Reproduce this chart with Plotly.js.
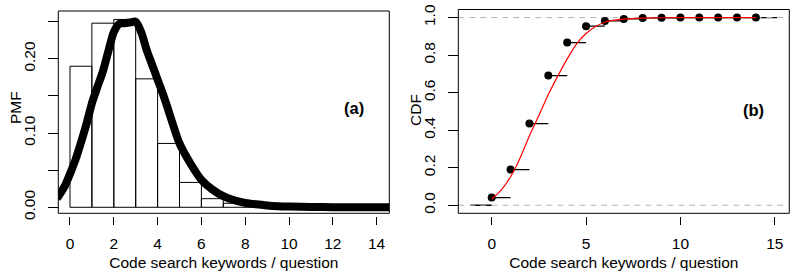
<!DOCTYPE html>
<html><head><meta charset="utf-8">
<script src="https://cdn.plot.ly/plotly-3.0.1.min.js"></script>
<style>html,body{margin:0;padding:0;background:#fff}#chart{width:800px;height:275px}</style>
</head><body><div id="chart"></div>
<script>
// ---- Panel (a): histogram of keywords per question (PMF) ----
const histEdges = [0,1,2,3,4,5,6,7,8,9,10,11,12,13,14];
const histPMF   = [0.190,0.248,0.253,0.173,0.086,0.0335,0.0116,0.0054,0.0024,0.0010,0.0005,0.0003,0.0002,0.0001];
// smoothed density curve
const densX = [-0.6,-0.25,0,0.25,0.5,0.75,1.0,1.25,1.5,1.75,2.0,2.25,2.5,2.75,3.0,3.25,3.5,3.75,4.0,4.25,4.5,4.75,5.0,5.5,6.0,6.5,7.0,7.5,8.0,8.5,9.0,9.5,10,11,12,13,14,14.7];
const densY = [0.012,0.028,0.045,0.064,0.087,0.112,0.140,0.162,0.183,0.210,0.236,0.247,0.248,0.249,0.250,0.236,0.212,0.192,0.172,0.152,0.130,0.107,0.086,0.059,0.037,0.024,0.015,0.0095,0.006,0.004,0.0025,0.0015,0.001,0.0005,0.0002,0.0001,0.00005,0.0];

// ---- Panel (b): empirical CDF and fitted CDF ----
const ecdfX = [0,1,2,3,4,5,6,7,8,9,10,11,12,13,14];
const ecdfY = [0.041,0.190,0.435,0.691,0.867,0.954,0.982,0.993,0.998,0.999,1.0,1.0,1.0,1.0,1.0];
const fitX = [0,0.5,1,1.5,2,2.5,3,3.5,4,4.5,5,5.5,6,6.5,7,8,9,10,12,14];
const fitY = [0.032,0.08,0.152,0.25,0.37,0.478,0.59,0.688,0.78,0.86,0.915,0.952,0.975,0.986,0.992,0.997,0.999,1.0,1.0,1.0];

const xTitle = 'Code search keywords / question';
const yTitleA = 'PMF', yTitleB = 'CDF';

const xRangeA = [-0.534,14.58], yRangeA = [-0.0081,0.2644];
const xRangeB = [-1.77,15.77], yRangeB = [-0.043,1.043];
const stepExt = 1.12;

const FONT = 'Liberation Sans, Arial, sans-serif';
const FS = 15.5;

// histogram bars
const barX = [], barW = [];
for (let i = 0; i < histPMF.length; i++) { barX.push((histEdges[i]+histEdges[i+1])/2); barW.push(histEdges[i+1]-histEdges[i]); }

// ECDF step segments
const segX = [], segY = [];
segX.push(ecdfX[0]-stepExt, ecdfX[0], null); segY.push(0,0,null);
for (let i = 0; i < ecdfX.length; i++) {
  const xe = (i < ecdfX.length-1) ? ecdfX[i+1] : ecdfX[i]+stepExt;
  segX.push(ecdfX[i], xe, null); segY.push(ecdfY[i], ecdfY[i], null);
}

const traces = [
  {type:'bar', x:barX, y:histPMF, width:barW, xaxis:'x', yaxis:'y',
   marker:{color:'rgba(255,255,255,0)', line:{color:'#000', width:1}}, hoverinfo:'skip', showlegend:false},
  {type:'scatter', mode:'lines', x:densX, y:densY, xaxis:'x', yaxis:'y',
   line:{color:'#000', width:8, shape:'spline', smoothing:0.8}, showlegend:false},
  {type:'scatter', mode:'lines', x:segX, y:segY, xaxis:'x2', yaxis:'y2',
   line:{color:'#000', width:1.3}, showlegend:false, connectgaps:false},
  {type:'scatter', mode:'lines', x:[xRangeB[0],xRangeB[1],null,xRangeB[0],xRangeB[1]], y:[0,0,null,1,1], xaxis:'x2', yaxis:'y2',
   line:{color:'#b3b3b3', width:1, dash:'6px,5px'}, showlegend:false},
  {type:'scatter', mode:'markers', x:ecdfX, y:ecdfY, xaxis:'x2', yaxis:'y2',
   marker:{color:'#000', size:8}, showlegend:false},
  {type:'scatter', mode:'lines', x:fitX, y:fitY, xaxis:'x2', yaxis:'y2',
   line:{color:'#ff0000', width:1.2, shape:'spline', smoothing:0.6}, showlegend:false}
];

const axCommon = {showgrid:false, zeroline:false, showline:false, ticks:'outside', tickcolor:'#000', tickwidth:1,
  tickfont:{family:FONT, size:FS, color:'#000'}, fixedrange:true};

const layout = {
  width:800, height:275, margin:{l:0,r:0,t:0,b:0}, paper_bgcolor:'#fff', plot_bgcolor:'#fff',
  showlegend:false, bargap:0, font:{family:FONT, size:FS, color:'#000'},
  xaxis: Object.assign({}, axCommon, {domain:[58.3/800,389.3/800], range:xRangeA, anchor:'free', position:(275-215.8)/275,
    tickvals:[0,2,4,6,8,10,12,14], ticklen:8.5, ticklabelstandoff:5,
    title:{text:xTitle, font:{family:FONT,size:FS,color:'#000'}, standoff:6}}),
  yaxis: Object.assign({}, axCommon, {domain:[(275-213.3)/275,(275-11)/275], range:yRangeA, anchor:'free', position:58.3/800,
    tickvals:[0,0.05,0.10,0.15,0.20,0.25], ticktext:['0.00','','0.10','','0.20',''], ticklen:10, tickangle:-90, ticklabelstandoff:7}),
  xaxis2: Object.assign({}, axCommon, {domain:[458.3/800,789.3/800], range:xRangeB, anchor:'free', position:(275-215.8)/275,
    tickvals:[0,5,10,15], ticklen:8.5, ticklabelstandoff:5,
    title:{text:xTitle, font:{family:FONT,size:FS,color:'#000'}, standoff:6}}),
  yaxis2: Object.assign({}, axCommon, {domain:[(275-213.3)/275,(275-9.5)/275], range:yRangeB, anchor:'free', position:458.3/800,
    tickvals:[0,0.2,0.4,0.6,0.8,1.0], ticktext:['0.0','0.2','0.4','0.6','0.8','1.0'], ticklen:10, tickangle:-90, ticklabelstandoff:7}),
  shapes:[
    {type:'rect', xref:'x domain', yref:'y domain', x0:0, x1:1, y0:0, y1:1, line:{color:'#000', width:1}, layer:'above'},
    {type:'rect', xref:'x2 domain', yref:'y2 domain', x0:0, x1:1, y0:0, y1:1, line:{color:'#000', width:1}, layer:'above'}
  ],
  annotations:[
    {text:yTitleA, xref:'paper', yref:'paper', x:15/800, y:(275-108)/275, textangle:-90, showarrow:false,
     xanchor:'center', yanchor:'middle', font:{family:FONT,size:FS,color:'#000'}},
    {text:yTitleB, xref:'paper', yref:'paper', x:415/800, y:(275-110)/275, textangle:-90, showarrow:false,
     xanchor:'center', yanchor:'middle', font:{family:FONT,size:FS,color:'#000'}},
    {text:'<b>(a)</b>', xref:'x domain', yref:'y domain', x:0.93, y:0.52, showarrow:false, font:{family:FONT,size:16.5,color:'#000'}},
    {text:'<b>(b)</b>', xref:'x2 domain', yref:'y2 domain', x:0.93, y:0.507, showarrow:false, font:{family:FONT,size:16.5,color:'#000'}}
  ]
};
Plotly.newPlot('chart', traces, layout, {staticPlot:true, displayModeBar:false});
</script></body></html>
